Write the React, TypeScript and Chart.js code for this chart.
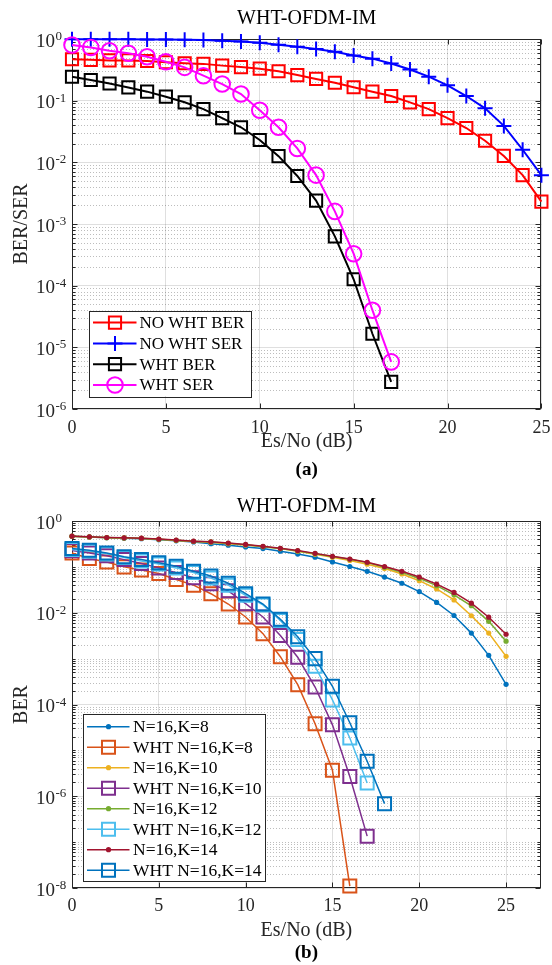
import React, { useEffect, useRef } from 'react';
import { Chart, registerables } from 'chart.js';

Chart.register(...registerables);

const FONT = "'Liberation Serif', 'Times New Roman', Times, serif";
const INK = '#262626';

// ---------------- (a) data ----------------
const titleA = 'WHT-OFDM-IM';
const snrA = [0, 1, 2, 3, 4, 5, 6, 7, 8, 9, 10, 11, 12, 13, 14, 15, 16, 17, 18, 19, 20, 21, 22, 23, 24, 25];
const noWhtBer = [0.47, 0.46, 0.45, 0.45, 0.44, 0.42, 0.405, 0.395, 0.37, 0.35, 0.33, 0.30, 0.26, 0.225, 0.195, 0.165, 0.14, 0.119, 0.094, 0.073, 0.052, 0.036, 0.0224, 0.0127, 0.0062, 0.0023];
const noWhtSer = [0.99, 0.99, 0.99, 0.99, 0.98, 0.98, 0.97, 0.96, 0.94, 0.91, 0.87, 0.81, 0.75, 0.69, 0.62, 0.54, 0.48, 0.40, 0.32, 0.245, 0.177, 0.119, 0.075, 0.039, 0.016, 0.0062];
const whtBer = [0.244, 0.216, 0.19, 0.164, 0.14, 0.116, 0.094, 0.073, 0.052, 0.037, 0.023, 0.0126, 0.006, 0.0024, 6.3e-4, 1.27e-4, 1.66e-5, 2.75e-6];
const whtSer = [0.80, 0.73, 0.645, 0.586, 0.516, 0.428, 0.347, 0.254, 0.186, 0.128, 0.070, 0.037, 0.0168, 0.0062, 0.0016, 3.3e-4, 4.0e-5, 5.8e-6];
const labelsA = ['NO WHT BER', 'NO WHT SER', 'WHT BER', 'WHT SER'];
const xTicksA = [0, 5, 10, 15, 20, 25];
const yMajorsA = [1, 1e-1, 1e-2, 1e-3, 1e-4, 1e-5, 1e-6];

// ---------------- (b) data ----------------
const titleB = 'WHT-OFDM-IM';
const snrB = [0, 1, 2, 3, 4, 5, 6, 7, 8, 9, 10, 11, 12, 13, 14, 15, 16, 17, 18, 19, 20, 21, 22, 23, 24, 25];
const berK8 = [0.464, 0.449, 0.43, 0.42, 0.41, 0.39, 0.37, 0.35, 0.32, 0.296, 0.272, 0.25, 0.219, 0.19, 0.162, 0.128, 0.102, 0.080, 0.060, 0.044, 0.029, 0.0168, 0.0087, 0.0036, 0.00118, 2.75e-4];
const whtK8 = [0.20, 0.152, 0.128, 0.10, 0.085, 0.072, 0.053, 0.040, 0.026, 0.0155, 0.0081, 0.0035, 0.0011, 2.7e-4, 3.8e-5, 3.7e-6, 1.1e-8];
const berK10 = [0.464, 0.449, 0.434, 0.427, 0.418, 0.398, 0.377, 0.357, 0.345, 0.32, 0.30, 0.277, 0.25, 0.22, 0.188, 0.163, 0.138, 0.114, 0.092, 0.070, 0.050, 0.033, 0.019, 0.0086, 0.0036, 0.00112];
const whtK10 = [0.226, 0.20, 0.174, 0.144, 0.118, 0.095, 0.075, 0.058, 0.043, 0.030, 0.0158, 0.0081, 0.0032, 0.00107, 2.4e-4, 3.6e-5, 2.7e-6, 1.35e-7];
const berK12 = [0.466, 0.45, 0.436, 0.428, 0.421, 0.40, 0.38, 0.36, 0.349, 0.326, 0.305, 0.276, 0.25, 0.223, 0.194, 0.168, 0.146, 0.124, 0.098, 0.076, 0.056, 0.039, 0.0246, 0.0142, 0.0065, 0.0024];
const whtK12 = [0.238, 0.219, 0.192, 0.16, 0.135, 0.116, 0.095, 0.075, 0.057, 0.040, 0.024, 0.0148, 0.0068, 0.0026, 6.8e-4, 1.26e-4, 1.86e-5, 1.95e-6];
const berK14 = [0.468, 0.452, 0.437, 0.43, 0.423, 0.403, 0.383, 0.364, 0.352, 0.33, 0.309, 0.28, 0.254, 0.227, 0.197, 0.17, 0.148, 0.126, 0.102, 0.080, 0.060, 0.042, 0.0277, 0.0162, 0.0080, 0.0034];
const whtK14 = [0.25, 0.23, 0.20, 0.166, 0.145, 0.123, 0.103, 0.080, 0.063, 0.044, 0.026, 0.0155, 0.0072, 0.003, 1.0e-3, 2.5e-4, 4.0e-5, 5.8e-6, 6.9e-7];
const labelsB = ['N=16,K=8', 'WHT N=16,K=8', 'N=16,K=10', 'WHT N=16,K=10', 'N=16,K=12', 'WHT N=16,K=12', 'N=16,K=14', 'WHT N=16,K=14'];
const xTicksB = [0, 5, 10, 15, 20, 25];
const yMajorsB = [1, 1e-2, 1e-4, 1e-6, 1e-8];

type Style = 'rect' | 'circle' | 'cross' | 'dot';
interface Series { label: string; xs: number[]; ys: number[]; color: string; style: Style; r: number; lw: number; mw: number; }

function toDataset(s: Series, i: number, n: number) {
  return {
    label: s.label,
    data: s.ys.map((v, k) => ({ x: s.xs[k], y: v })),
    borderColor: s.color,
    backgroundColor: s.color,
    borderWidth: s.lw,
    pointStyle: s.style === 'dot' ? 'circle' : s.style,
    pointRadius: s.r,
    pointBorderColor: s.color,
    pointBackgroundColor: s.style === 'dot' ? s.color : 'rgba(0,0,0,0)',
    pointBorderWidth: s.style === 'dot' ? 0 : s.mw,
    tension: 0,
    clip: false as any,
    order: n - i,
  };
}

function drawMarker(ctx: CanvasRenderingContext2D, s: Series, x: number, y: number) {
  ctx.save();
  ctx.strokeStyle = s.color;
  ctx.fillStyle = s.color;
  ctx.lineWidth = s.mw;
  ctx.beginPath();
  if (s.style === 'rect') {
    const h = s.r * Math.SQRT1_2;
    ctx.rect(x - h, y - h, 2 * h, 2 * h);
    ctx.stroke();
  } else if (s.style === 'circle') {
    ctx.arc(x, y, s.r, 0, Math.PI * 2);
    ctx.stroke();
  } else if (s.style === 'cross') {
    ctx.moveTo(x, y - s.r); ctx.lineTo(x, y + s.r);
    ctx.moveTo(x - s.r, y); ctx.lineTo(x + s.r, y);
    ctx.stroke();
  } else {
    ctx.arc(x, y, s.r, 0, Math.PI * 2);
    ctx.fill();
  }
  ctx.restore();
}

interface LegendSpec { x: number; y: number; w: number; h: number; row0: number; rowH: number; l0: number; l1: number; mx: number; tx: number; font: number; }

interface Spec {
  width: number; height: number;
  title: string; titleFont: number; titlePad: { top: number; bottom: number };
  sub: string; subFont: number; subPadBottom: number;
  plotLeft: number; plotRight: number; plotBottom: number;
  xMax: number; xTicks: number[]; xTickPad: number; xTitlePadBottom: number;
  yMin: number; yMax: number; yMajors: number[]; yTitle: string; yTitlePad: number;
  series: Series[]; legend: LegendSpec; powRight: number;
}

function makeConfig(sp: Spec): any {
  const subBoxTop = sp.height - (sp.subFont + sp.subPadBottom);
  const xHeight = subBoxTop - sp.plotBottom;

  const decor = {
    id: 'decor',
    beforeDatasetsDraw(chart: any) {
      const { ctx, chartArea: a, scales } = chart;
      const y = scales.y;
      const x = scales.x;
      const lo = Math.floor(Math.log10(sp.yMin));
      const hi = Math.ceil(Math.log10(sp.yMax));
      ctx.save();
      ctx.strokeStyle = 'rgba(38,38,38,0.3)';
      ctx.lineWidth = 1;
      ctx.setLineDash([1, 2]);
      for (let k = lo; k < hi; k++) {
        for (let m = 1; m <= 9; m++) {
          const v = m * Math.pow(10, k);
          if (sp.yMajors.some((t) => Math.abs(t - v) / v < 1e-9)) continue;
          const py = Math.round(y.getPixelForValue(v)) + 0.5;
          if (py <= a.top || py >= a.bottom) continue;
          ctx.beginPath();
          ctx.moveTo(a.left, py);
          ctx.lineTo(a.right, py);
          ctx.stroke();
        }
      }
      ctx.setLineDash([]);
      ctx.strokeStyle = INK;
      ctx.lineWidth = 1;
      const L = Math.round(a.left) + 0.5, R = Math.round(a.right) - 0.5;
      const T = Math.round(a.top) + 0.5, B = Math.round(a.bottom) - 0.5;
      ctx.strokeRect(L, T, R - L, B - T);
      ctx.beginPath();
      for (const t of sp.xTicks) {
        const px = Math.round(x.getPixelForValue(t)) + 0.5;
        ctx.moveTo(px, B); ctx.lineTo(px, B - 5);
        ctx.moveTo(px, T); ctx.lineTo(px, T + 5);
      }
      for (let k = lo; k <= hi; k++) {
        for (let m = 1; m <= 9; m++) {
          const v = m * Math.pow(10, k);
          if (v < sp.yMin * 0.999 || v > sp.yMax * 1.001) continue;
          const major = sp.yMajors.some((t) => Math.abs(t - v) / v < 1e-9);
          const len = major ? 5 : 3;
          const py = Math.round(y.getPixelForValue(v)) + 0.5;
          ctx.moveTo(L, py); ctx.lineTo(L + len, py);
          ctx.moveTo(R, py); ctx.lineTo(R - len, py);
        }
      }
      ctx.stroke();
      ctx.restore();
    },
    afterDraw(chart: any) {
      const { ctx, scales } = chart;
      const y = scales.y;
      ctx.save();
      ctx.fillStyle = INK;
      ctx.textBaseline = 'alphabetic';
      for (const v of sp.yMajors) {
        const py = y.getPixelForValue(v);
        const e = Math.round(Math.log10(v));
        const exp = e === 0 ? '0' : '-' + String(Math.abs(e));
        ctx.font = `19px ${FONT}`;
        ctx.textAlign = 'right';
        ctx.fillText('10', sp.powRight, py + 7.5);
        ctx.font = `13px ${FONT}`;
        ctx.textAlign = 'left';
        ctx.fillText(exp, sp.powRight + 0.5, py + 1);
      }
      const lg = sp.legend;
      ctx.fillStyle = '#ffffff';
      ctx.fillRect(lg.x, lg.y, lg.w, lg.h);
      ctx.strokeStyle = INK;
      ctx.lineWidth = 1;
      ctx.strokeRect(Math.round(lg.x) + 0.5, Math.round(lg.y) + 0.5, Math.round(lg.w), Math.round(lg.h));
      sp.series.forEach((s, i) => {
        const cy = lg.row0 + i * lg.rowH;
        ctx.strokeStyle = s.color;
        ctx.lineWidth = s.lw;
        ctx.beginPath();
        ctx.moveTo(lg.l0, cy);
        ctx.lineTo(lg.l1, cy);
        ctx.stroke();
        drawMarker(ctx, s, lg.mx, cy);
        ctx.fillStyle = '#000000';
        ctx.font = `${lg.font}px ${FONT}`;
        ctx.textAlign = 'left';
        ctx.textBaseline = 'middle';
        ctx.fillText(s.label, lg.tx, cy + 1);
      });
      ctx.restore();
    },
  };

  return {
    type: 'line',
    data: { datasets: sp.series.map((s, i) => toDataset(s, i, sp.series.length)) },
    options: {
      responsive: false,
      maintainAspectRatio: false,
      animation: false,
      devicePixelRatio: 1,
      events: [],
      layout: { padding: { left: 0, right: sp.width - sp.plotRight, top: 0, bottom: 0 } },
      plugins: {
        legend: { display: false },
        tooltip: { enabled: false },
        title: {
          display: true,
          fullSize: false,
          text: sp.title,
          color: '#000000',
          font: { family: FONT, size: sp.titleFont, weight: 'normal', lineHeight: 1.2 },
          padding: sp.titlePad,
        },
        subtitle: {
          display: true,
          fullSize: false,
          position: 'bottom',
          text: sp.sub,
          color: '#000000',
          font: { family: FONT, size: sp.subFont, weight: 'bold', lineHeight: 1.0 },
          padding: { top: 0, bottom: sp.subPadBottom },
        },
      },
      scales: {
        x: {
          type: 'linear',
          min: 0,
          max: sp.xMax,
          afterBuildTicks: (sc: any) => { sc.ticks = sp.xTicks.map((v) => ({ value: v })); },
          afterFit: (sc: any) => { sc.height = xHeight; sc.paddingLeft = 0; sc.paddingRight = 0; },
          grid: { color: 'rgba(38,38,38,0.15)', lineWidth: 1, drawTicks: false },
          border: { display: false },
          ticks: { color: INK, padding: sp.xTickPad, maxRotation: 0, font: { family: FONT, size: 18 }, callback: (v: any) => String(v) },
          title: { display: true, text: 'Es/No (dB)', color: INK, font: { family: FONT, size: 20, lineHeight: 1.2 }, padding: { top: 0, bottom: sp.xTitlePadBottom } },
        },
        y: {
          type: 'logarithmic',
          min: sp.yMin,
          max: sp.yMax,
          afterBuildTicks: (sc: any) => { sc.ticks = sp.yMajors.map((v) => ({ value: v })); },
          afterFit: (sc: any) => { sc.width = sp.plotLeft; sc.paddingTop = 0; sc.paddingBottom = 0; },
          grid: { color: 'rgba(38,38,38,0.15)', lineWidth: 1, drawTicks: false },
          border: { display: false },
          ticks: { display: false },
          title: { display: true, text: sp.yTitle, color: INK, font: { family: FONT, size: 20, lineHeight: 1.2 }, padding: { top: sp.yTitlePad, bottom: 0 } },
        },
      },
    },
    plugins: [decor],
  };
}

const seriesA: Series[] = [
  { label: labelsA[0], xs: snrA, ys: noWhtBer, color: '#ff0000', style: 'rect', r: 8.6, lw: 2, mw: 2 },
  { label: labelsA[1], xs: snrA, ys: noWhtSer, color: '#0000ff', style: 'cross', r: 7.5, lw: 2, mw: 2 },
  { label: labelsA[2], xs: snrA, ys: whtBer, color: '#000000', style: 'rect', r: 8.6, lw: 2, mw: 2 },
  { label: labelsA[3], xs: snrA, ys: whtSer, color: '#ff00ff', style: 'circle', r: 7.8, lw: 2, mw: 2 },
];

const seriesB: Series[] = [
  { label: labelsB[0], xs: snrB, ys: berK8, color: '#0072BD', style: 'dot', r: 2.6, lw: 1.5, mw: 0 },
  { label: labelsB[1], xs: snrB, ys: whtK8, color: '#D95319', style: 'rect', r: 9.2, lw: 1.5, mw: 2 },
  { label: labelsB[2], xs: snrB, ys: berK10, color: '#EDB120', style: 'dot', r: 2.6, lw: 1.5, mw: 0 },
  { label: labelsB[3], xs: snrB, ys: whtK10, color: '#7E2F8E', style: 'rect', r: 9.2, lw: 1.5, mw: 2 },
  { label: labelsB[4], xs: snrB, ys: berK12, color: '#77AC30', style: 'dot', r: 2.6, lw: 1.5, mw: 0 },
  { label: labelsB[5], xs: snrB, ys: whtK12, color: '#4DBEEE', style: 'rect', r: 9.2, lw: 1.5, mw: 2 },
  { label: labelsB[6], xs: snrB, ys: berK14, color: '#A2142F', style: 'dot', r: 2.6, lw: 1.5, mw: 0 },
  { label: labelsB[7], xs: snrB, ys: whtK14, color: '#0072BD', style: 'rect', r: 9.2, lw: 1.5, mw: 2 },
];

const specA: Spec = {
  width: 552, height: 484,
  title: titleA, titleFont: 20, titlePad: { top: 7, bottom: 8 },
  sub: '(a)', subFont: 19, subPadBottom: 4.5,
  plotLeft: 72, plotRight: 543, plotBottom: 409,
  xMax: 25, xTicks: xTicksA, xTickPad: 8.2, xTitlePadBottom: 6.5,
  yMin: 1e-6, yMax: 1, yMajors: yMajorsA, yTitle: 'BER/SER', yTitlePad: 9.5,
  series: seriesA,
  legend: { x: 88.5, y: 310.5, w: 162, h: 85.5, row0: 322.6, rowH: 20.8, l0: 93, l1: 136.5, mx: 115, tx: 139.5, font: 17 },
  powRight: 55,
};

const specB: Spec = {
  width: 552, height: 481,
  title: titleB, titleFont: 20, titlePad: { top: 10.7, bottom: 2.3 },
  sub: '(b)', subFont: 19, subPadBottom: 2,
  plotLeft: 72, plotRight: 541, plotBottom: 404,
  xMax: 27, xTicks: xTicksB, xTickPad: 7.9, xTitlePadBottom: 1.5,
  yMin: 1e-8, yMax: 1, yMajors: yMajorsB, yTitle: 'BER', yTitlePad: 9.5,
  series: seriesB,
  legend: { x: 83, y: 230, w: 182, h: 167, row0: 242.7, rowH: 20.5, l0: 87, l1: 129.5, mx: 108.5, tx: 133, font: 17.5 },
  powRight: 55,
};

function BerChart({ spec, top }: { spec: Spec; top: number }) {
  const ref = useRef<HTMLCanvasElement>(null);
  useEffect(() => {
    if (!ref.current) return;
    const chart = new Chart(ref.current, makeConfig(spec));
    return () => chart.destroy();
  }, [spec]);
  return (
    <div style={{ position: 'absolute', left: 0, top, width: spec.width, height: spec.height }}>
      <canvas ref={ref} width={spec.width} height={spec.height} style={{ display: 'block', width: spec.width, height: spec.height }} />
    </div>
  );
}

export default function App() {
  return (
    <div style={{ position: 'absolute', left: 0, top: 0, width: 552, height: 965, background: '#ffffff' }}>
      <BerChart spec={specA} top={0} />
      <BerChart spec={specB} top={484} />
    </div>
  );
}
